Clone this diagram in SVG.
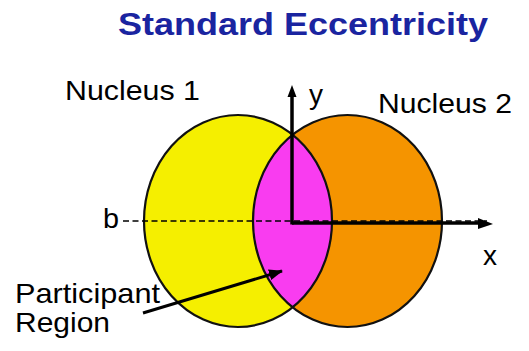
<svg xmlns="http://www.w3.org/2000/svg" width="529" height="351" viewBox="0 0 529 351">
<style>
.t{font-family:"Liberation Sans",Arial,sans-serif;font-size:28px;fill:#000}
.title{font-family:"Liberation Sans",Arial,sans-serif;font-size:31px;font-weight:bold;fill:#1a24a0}
.outline{fill:none;stroke:#111;stroke-width:2.2}
.ax{stroke:#000;stroke-width:3.5;fill:none}
</style>
<defs>
<marker id="ah2" markerWidth="14" markerHeight="11" viewBox="0 0 14 11" refX="13" refY="5.5" orient="auto" markerUnits="userSpaceOnUse">
<path d="M0,0 L14,5.5 L0,11 z" fill="#000"/>
</marker>
<clipPath id="cl"><ellipse cx="238" cy="221" rx="94" ry="106"/></clipPath>
</defs>
<rect width="529" height="351" fill="#fff"/>
<text class="title" x="118" y="35" textLength="370" lengthAdjust="spacingAndGlyphs">Standard Eccentricity</text>
<g id="nucleus1">
<ellipse cx="238" cy="221" rx="94" ry="106" fill="#f5ef00"/>
<text class="t" x="65" y="100" textLength="135" lengthAdjust="spacingAndGlyphs">Nucleus 1</text>
</g>
<g id="nucleus2">
<ellipse cx="347.5" cy="221" rx="94.5" ry="106" fill="#f59400"/>
<text class="t" x="378" y="113" textLength="134" lengthAdjust="spacingAndGlyphs">Nucleus 2</text>
</g>
<g id="participant">
<ellipse cx="347.5" cy="221" rx="94.5" ry="106" fill="#f93cf0" clip-path="url(#cl)"/>
<text class="t" x="15" y="303" textLength="145" lengthAdjust="spacingAndGlyphs">Participant</text>
<text class="t" x="15" y="332" textLength="95" lengthAdjust="spacingAndGlyphs">Region</text>
</g>
<ellipse class="outline" cx="238" cy="221" rx="94" ry="106"/>
<ellipse class="outline" cx="347.5" cy="221" rx="94.5" ry="106"/>
<g id="connectors">
<line class="ax" x1="292" y1="223" x2="478" y2="223"/>
<path d="M478,218 L493,224 L478,229 z" fill="#000"/>
<line x1="123" y1="221" x2="487" y2="221" stroke="#000" stroke-width="1.3" stroke-dasharray="6,3.5"/>
<line class="ax" x1="292" y1="224.5" x2="292" y2="96"/>
<path d="M287.5,97 L292,85 L296.5,97 z" fill="#000"/>
<line x1="143" y1="313" x2="282" y2="271" stroke="#000" stroke-width="3" marker-end="url(#ah2)"/>
</g>
<g id="labels">
<text class="t" x="103" y="228" textLength="16" lengthAdjust="spacingAndGlyphs">b</text>
<text class="t" x="309" y="104">y</text>
<text class="t" x="483" y="265">x</text>
</g>
</svg>
